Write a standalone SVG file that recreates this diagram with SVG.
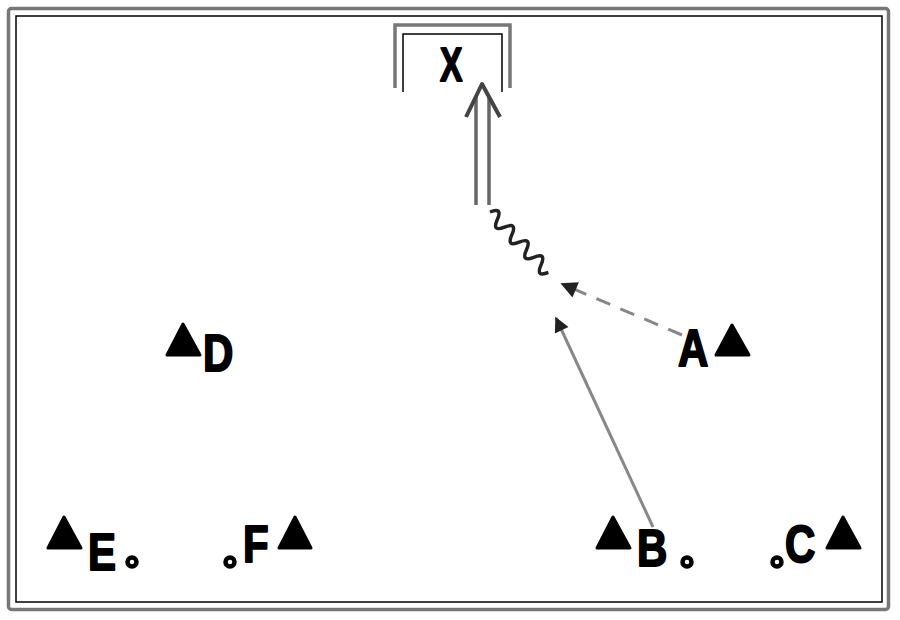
<svg xmlns="http://www.w3.org/2000/svg" width="900" height="620" viewBox="0 0 900 620">
<style>
.lbl{font-family:"Liberation Sans",Arial,sans-serif;font-weight:bold;font-size:42px;fill:#000;stroke:#000;stroke-width:1.6;stroke-linejoin:round}
.tri{fill:#000;stroke:#000;stroke-width:3;stroke-linejoin:round}
.dot{fill:#fff;stroke:#000;stroke-width:4.5}
</style>
<defs>
<marker id="ah" viewBox="0 0 10 10" refX="9" refY="5" markerWidth="5.5" markerHeight="5" markerUnits="strokeWidth" orient="auto">
<path d="M0,0 L10,5 L0,10 z" fill="#222"/>
</marker>
<marker id="ah2" viewBox="0 0 10 10" refX="9" refY="5" markerWidth="6.5" markerHeight="5.5" markerUnits="strokeWidth" orient="auto">
<path d="M0,0 L10,5 L0,10 z" fill="#222"/>
</marker>
</defs>
<rect width="900" height="620" fill="#fff"/>
<rect x="8.5" y="8.5" width="880" height="601" rx="3" fill="none" stroke="#777" stroke-width="3.5"/>
<rect x="16" y="16" width="866" height="586" fill="none" stroke="#000" stroke-width="1.5"/>
<g id="goal">
<path d="M395,88 V25 H510 V88" fill="none" stroke="#777" stroke-width="3.5"/>
<path d="M403,92 V34 H502 V92" fill="none" stroke="#000" stroke-width="1.5"/>
<text class="lbl" transform="translate(440,81) scale(0.8,1.15)" font-size="36">X</text>
</g>
<g id="connectors">
<line x1="476" y1="96" x2="476" y2="205" stroke="#666" stroke-width="3.5"/>
<line x1="489" y1="96" x2="489" y2="205" stroke="#666" stroke-width="3.5"/>
<path d="M466,117 L482,84 L500,117" fill="none" stroke="#444" stroke-width="4" stroke-linejoin="round"/>
<path transform="translate(490,212) rotate(46)" d="M0,0 q5.25,-13 10.5,0 t10.5,0 t10.5,0 t10.5,0 t10.5,0 t10.5,0 t10.5,0 t10.5,0" fill="none" stroke="#222" stroke-width="3.5"/>
<line x1="682" y1="335" x2="562" y2="284" stroke="#888" stroke-width="3" stroke-dasharray="15,11" marker-end="url(#ah2)"/>
<line x1="653" y1="527" x2="556" y2="318" stroke="#888" stroke-width="3" marker-end="url(#ah)"/>
</g>
<g id="A">
<text class="lbl" transform="translate(678,366) scale(1,1.22)">A</text>
<path class="tri" d="M732,325 L749,355 L716,355 z"/>
</g>
<g id="D">
<path class="tri" d="M183,324 L200,355 L167,355 z"/>
<text class="lbl" transform="translate(203,371) scale(1,1.22)">D</text>
</g>
<g id="E">
<path class="tri" d="M64,517 L81,548 L48,548 z"/>
<text class="lbl" transform="translate(88,570) scale(1,1.22)">E</text>
<circle class="dot" cx="132" cy="562" r="4.5"/>
</g>
<g id="F">
<circle class="dot" cx="230" cy="562" r="4.5"/>
<text class="lbl" transform="translate(243,562) scale(1,1.22)">F</text>
<path class="tri" d="M295,517 L311,548 L279,548 z"/>
</g>
<g id="B">
<path class="tri" d="M613,517 L630,548 L597,548 z"/>
<text class="lbl" transform="translate(637,566) scale(1,1.22)">B</text>
<circle class="dot" cx="687" cy="562" r="4.5"/>
</g>
<g id="C">
<circle class="dot" cx="777" cy="562" r="4.5"/>
<text class="lbl" transform="translate(785,562) scale(1,1.22)">C</text>
<path class="tri" d="M843,517 L860,548 L827,548 z"/>
</g>
</svg>
